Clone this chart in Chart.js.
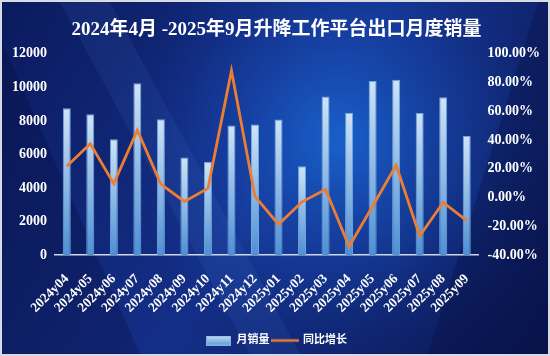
<!DOCTYPE html>
<html><head><meta charset="utf-8">
<script src="https://cdn.jsdelivr.net/npm/chart.js@4/dist/chart.umd.min.js"></script>
<style>html,body{margin:0;padding:0;background:#d8dbe2;}#wrap{width:550px;height:356px;position:relative;}</style>
</head><body><div id="wrap"><canvas id="c" width="550" height="356"></canvas></div>
<script>
const titleText = '2024年4月 -2025年9月升降工作平台出口月度销量';
const categories = ['2024y04','2024y05','2024y06','2024y07','2024y08','2024y09','2024y10','2024y11','2024y12','2025y01','2025y02','2025y03','2025y04','2025y05','2025y06','2025y07','2025y08','2025y09'];
const monthlySales = [8750,8400,6900,10250,8100,5820,5560,7720,7780,8090,5300,9450,8480,10380,10460,8470,9410,7100];
const yoyGrowth = [21.8,37.4,9.7,46.8,9.4,-2.7,6.4,88.3,0.8,-18.6,-2.9,5.7,-34.0,-6.0,22.5,-26.7,-3.4,-16.0];
const seriesNames = ['月销量','同比增长'];

const SERIF = '"Liberation Serif","DejaVu Serif","Noto Sans CJK SC",serif';

const bgPlugin = {
  id:'bg',
  beforeDraw(chart){
    const ctx = chart.ctx, w = chart.width, h = chart.height;
    ctx.save();
    ctx.fillStyle = '#d8dbe2';
    ctx.fillRect(0,0,w,h);
    const x0=2,y0=2,x1=w-2,y1=h-2;
    let g = ctx.createLinearGradient(0,0,w,h);
    g.addColorStop(0,'#0b1a5e');
    g.addColorStop(0.5,'#142f88');
    g.addColorStop(1,'#0a1650');
    ctx.fillStyle = g;
    ctx.fillRect(x0,y0,x1-x0,y1-y0);
    let r = ctx.createRadialGradient(340,140,10,340,140,250);
    r.addColorStop(0,'rgba(25,105,215,0.8)');
    r.addColorStop(0.5,'rgba(25,80,190,0.35)');
    r.addColorStop(1,'rgba(10,30,100,0)');
    ctx.fillStyle = r;
    ctx.fillRect(x0,y0,x1-x0,y1-y0);
    ctx.globalAlpha = 0.3;
    ctx.fillStyle = '#050c3a';
    ctx.beginPath(); ctx.moveTo(x0,y0+40); ctx.lineTo(140,y1); ctx.lineTo(x0,y1); ctx.closePath(); ctx.fill();
    ctx.beginPath(); ctx.moveTo(x1,y0); ctx.lineTo(x1,y1); ctx.lineTo(x1-120,y1); ctx.lineTo(x1-10,y0); ctx.closePath(); ctx.fill();
    ctx.globalAlpha = 0.08;
    ctx.fillStyle = '#6aa0ff';
    ctx.beginPath(); ctx.moveTo(60,y0); ctx.lineTo(110,y0); ctx.lineTo(300,y1); ctx.lineTo(250,y1); ctx.closePath(); ctx.fill();
    ctx.restore();
  }
};

function makeIcon(kind){
  const c = document.createElement('canvas'); c.width=kind==='bar'?25:28; c.height=10;
  const x = c.getContext('2d');
  if(kind==='bar'){
    const g = x.createLinearGradient(0,0,0,10);
    g.addColorStop(0,'#c8def4'); g.addColorStop(1,'#5c9ad6');
    x.fillStyle=g; x.fillRect(0,0,25,10);
    x.strokeStyle='#7fb2e4'; x.lineWidth=1; x.strokeRect(0.5,0.5,24,9);
  } else {
    x.strokeStyle='#ed7d31'; x.lineWidth=2.5; x.beginPath(); x.moveTo(0,5); x.lineTo(28,5); x.stroke();
  }
  return c;
}
const barIcon = makeIcon('bar'), lineIcon = makeIcon('line');

const ctx = document.getElementById('c').getContext('2d');
const barGrad = (context)=>{
  const chart = context.chart; const a = chart.chartArea;
  if(!a || context.raw===undefined) return '#8ab8e6';
  const top = chart.scales.y.getPixelForValue(context.raw);
  const g = chart.ctx.createLinearGradient(0,top,0,a.bottom);
  g.addColorStop(0,'#cfe3f6');
  g.addColorStop(1,'#4e90d4');
  return g;
};

new Chart(ctx,{
  data:{
    labels:categories,
    datasets:[
      {type:'line',label:seriesNames[1],data:yoyGrowth,yAxisID:'y1',borderColor:'#ed7d31',backgroundColor:'#ed7d31',borderWidth:2.8,pointRadius:0,tension:0,order:0},
      {type:'bar',label:seriesNames[0],data:monthlySales,yAxisID:'y',backgroundColor:barGrad,borderColor:'#6fa8e0',borderWidth:1,barPercentage:0.34,categoryPercentage:1,order:1}
    ]
  },
  options:{
    responsive:false,animation:false,
    layout:{padding:{left:4,right:1,top:4,bottom:0}},
    plugins:{
      title:{display:true,text:titleText,color:'#ffffff',font:{family:SERIF,size:19,weight:'bold'},padding:{top:15,bottom:12}},
      legend:{position:'bottom',labels:{color:'#ffffff',font:{family:SERIF,size:11,weight:'bold'},usePointStyle:true,pointStyleWidth:25,boxHeight:10,padding:3,
        generateLabels(chart){
          return [
            {text:seriesNames[0],pointStyle:barIcon,fontColor:'#fff',datasetIndex:1,lineWidth:0},
            {text:seriesNames[1],pointStyle:lineIcon,fontColor:'#fff',datasetIndex:0,lineWidth:0}
          ];
        }}},
      tooltip:{enabled:false}
    },
    scales:{
      x:{grid:{display:false,drawTicks:false},border:{display:true,color:'#d0d8e8',width:1.5},
        ticks:{autoSkip:false,color:'#ffffff',font:{family:SERIF,size:13.5,weight:'bold'},maxRotation:45,minRotation:45,padding:16}},
      y:{position:'left',min:0,max:12000,grid:{display:false,drawTicks:false},border:{display:false},
        ticks:{stepSize:2000,color:'#ffffff',font:{family:SERIF,size:14,weight:'bold'},padding:8,callback:v=>String(v)}},
      y1:{position:'right',min:-40,max:100,grid:{display:false,drawTicks:false},border:{display:false},
        ticks:{stepSize:20,color:'#ffffff',font:{family:SERIF,size:14,weight:'bold'},padding:9,callback:v=>v.toFixed(2)+'%'}}
    }
  },
  plugins:[bgPlugin]
});
</script></body></html>
